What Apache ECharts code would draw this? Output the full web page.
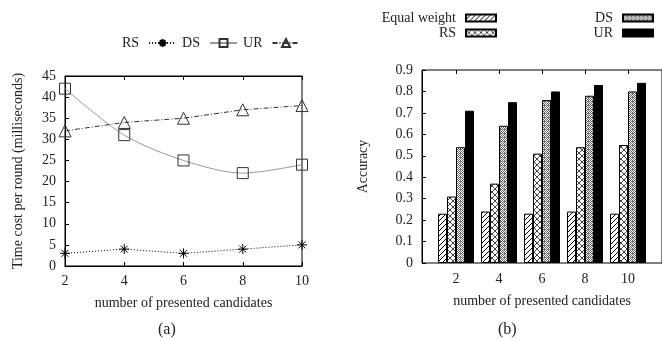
<!DOCTYPE html>
<html>
<head>
<meta charset="utf-8">
<script src="https://cdn.jsdelivr.net/npm/echarts@6/dist/echarts.min.js"></script>
<style>
  html, body { margin: 0; padding: 0; background: #fff; }
  #app { width: 662px; height: 341px; }
</style>
</head>
<body>
<div id="app"></div>
<script>
// (a) time cost per round
const candidates = [2, 4, 6, 8, 10];
const rsTime = [3, 4, 3, 4, 5];
const dsTime = [42, 31, 25, 22, 24];
const urTime = [32, 34, 35, 37, 38];

// (b) accuracy
const candidateLabels = ["2", "4", "6", "8", "10"];
const equalAcc = [0.23, 0.24, 0.23, 0.24, 0.23];
const rsAcc = [0.31, 0.37, 0.51, 0.54, 0.55];
const dsAcc = [0.54, 0.64, 0.76, 0.78, 0.80];
const urAcc = [0.71, 0.75, 0.80, 0.83, 0.84];

const FONT = "Liberation Serif";
const TXT = "#222";

function makePattern(size, draw) {
  const c = document.createElement("canvas");
  c.width = size;
  c.height = size;
  const ctx = c.getContext("2d");
  ctx.fillStyle = "#fff";
  ctx.fillRect(0, 0, size, size);
  draw(ctx, size);
  return { image: c, repeat: "repeat" };
}

// diagonal hatch ////
const hatch = makePattern(5, (ctx, s) => {
  ctx.strokeStyle = "#000";
  ctx.lineWidth = 1;
  ctx.beginPath();
  ctx.moveTo(-1, s + 1); ctx.lineTo(s + 1, -1);
  ctx.moveTo(-1, 1); ctx.lineTo(1, -1);
  ctx.moveTo(s - 1, s + 1); ctx.lineTo(s + 1, s - 1);
  ctx.stroke();
});

// crossed lattice
const lattice = makePattern(6, (ctx, s) => {
  ctx.fillStyle = "#444";
  for (let i = 0; i < s; i++) {
    ctx.fillRect(i, i, 1, 1);
    ctx.fillRect(s - 1 - i, i, 1, 1);
  }
});

// dense dots
const dots = makePattern(4, (ctx) => {
  ctx.fillStyle = "#666";
  [[0,0],[2,0],[1,1],[3,1],[0,2],[2,2],[1,3],[3,3],[0,1]].forEach(p => ctx.fillRect(p[0], p[1], 1, 1));
});

const asterisk = "path://M0,-10L0,10M-10,0L10,0M-7,-7L7,7M-7,7L7,-7";

function pairs(ys) {
  return candidates.map((x, i) => [x, ys[i]]);
}

const tick = { show: true, inside: true, length: 4, lineStyle: { color: "#000" } };
const line = { show: true, lineStyle: { color: "#000", width: 1 } };
const label = { fontFamily: FONT, fontSize: 14, color: TXT };
const legendText = Object.assign({ padding: [0, 5, 0, 0] }, label);

const option = {
  animation: false,
  backgroundColor: "#fff",
  textStyle: { fontFamily: FONT },
  grid: [
    { left: 65, top: 76, width: 237, height: 190, show: true, borderColor: "#000", borderWidth: 1 },
    { left: 422, top: 70, width: 260, height: 193, show: true, borderColor: "#000", borderWidth: 1 },
    { left: 434.5, top: 70, width: 215, height: 193 }
  ],
  legend: [
    {
      data: ["RS", "DS", "UR"],
      left: 122, top: 36, padding: 0,
      align: "right",
      itemWidth: 27, itemHeight: 10, itemGap: 5,
      textStyle: legendText
    },
    {
      data: ["Equal weight", "RS_b"],
      orient: "vertical",
      right: 165, top: 11, padding: 0,
      align: "right", icon: "rect",
      itemWidth: 30, itemHeight: 7, itemGap: 1,
      formatter: n => n.replace("_b", ""),
      textStyle: Object.assign({ lineHeight: 14 }, legendText)
    },
    {
      data: ["DS_b", "UR_b"],
      orient: "vertical",
      right: 8, top: 11, padding: 0,
      align: "right", icon: "rect",
      itemWidth: 30, itemHeight: 7, itemGap: 1,
      formatter: n => n.replace("_b", ""),
      textStyle: Object.assign({ lineHeight: 14 }, legendText)
    }
  ],
  xAxis: [
    {
      gridIndex: 0, type: "value", min: 2, max: 10, interval: 2,
      axisLine: line, axisTick: tick, splitLine: { show: false },
      axisLabel: Object.assign({ margin: 8 }, label),
      name: "number of presented candidates", nameLocation: "middle", nameGap: 30,
      nameTextStyle: label
    },
    {
      gridIndex: 0, type: "value", position: "top", min: 2, max: 10, interval: 2,
      axisLine: line, axisTick: tick, splitLine: { show: false }, axisLabel: { show: false }
    },
    { gridIndex: 1, type: "value", show: false },
    {
      gridIndex: 2, type: "category", data: candidateLabels,
      axisLine: { show: false }, axisTick: { show: false },
      axisLabel: Object.assign({ margin: 9 }, label),
      name: "number of presented candidates", nameLocation: "middle", nameGap: 31,
      nameTextStyle: label
    },
    {
      gridIndex: 2, type: "category", data: candidateLabels, position: "top",
      axisLine: { show: false },
      axisTick: Object.assign({ alignWithLabel: true }, tick),
      axisLabel: { show: false }
    }
  ],
  yAxis: [
    {
      gridIndex: 0, type: "value", min: 0, max: 45, interval: 5,
      axisLine: line, axisTick: tick, splitLine: { show: false },
      axisLabel: Object.assign({ margin: 9 }, label),
      name: "Time cost per round (milliseconds)", nameLocation: "middle", nameGap: 40,
      nameTextStyle: label
    },
    {
      gridIndex: 1, type: "value", min: 0, max: 0.9, interval: 0.1,
      axisLine: line, axisTick: tick, splitLine: { show: false },
      axisLabel: Object.assign({ margin: 9 }, label),
      name: "Accuracy", nameLocation: "middle", nameGap: 52,
      nameTextStyle: label
    },
    { gridIndex: 2, type: "value", min: 0, max: 0.9, show: false }
  ],
  series: [
    {
      name: "RS", type: "line", xAxisIndex: 0, yAxisIndex: 0,
      data: pairs(rsTime),
      symbol: asterisk, symbolSize: 10,
      itemStyle: { color: "#000", borderColor: "#000", borderWidth: 1 },
      lineStyle: { color: "#000", width: 1, type: [1, 2] }
    },
    {
      name: "DS", type: "line", xAxisIndex: 0, yAxisIndex: 0,
      data: pairs(dsTime), smooth: 0.3,
      symbol: "rect", symbolSize: 11,
      itemStyle: { color: "rgba(255,255,255,0)", borderColor: "#333", borderWidth: 1 },
      lineStyle: { color: "#999", width: 1 }
    },
    {
      name: "UR", type: "line", xAxisIndex: 0, yAxisIndex: 0,
      data: pairs(urTime),
      symbol: "triangle", symbolSize: 12,
      itemStyle: { color: "rgba(255,255,255,0)", borderColor: "#333", borderWidth: 1 },
      lineStyle: { color: "#333", width: 1, type: [5, 2, 1, 2] }
    },
    {
      name: "Equal weight", type: "bar", xAxisIndex: 3, yAxisIndex: 2,
      data: equalAcc, barWidth: 9, barGap: "0%",
      itemStyle: { color: hatch, borderColor: "#000", borderWidth: 1 }
    },
    {
      name: "RS_b", type: "bar", xAxisIndex: 3, yAxisIndex: 2,
      data: rsAcc, barWidth: 9, barGap: "0%",
      itemStyle: { color: lattice, borderColor: "#000", borderWidth: 1 }
    },
    {
      name: "DS_b", type: "bar", xAxisIndex: 3, yAxisIndex: 2,
      data: dsAcc, barWidth: 9, barGap: "0%",
      itemStyle: { color: dots, borderColor: "#000", borderWidth: 1 }
    },
    {
      name: "UR_b", type: "bar", xAxisIndex: 3, yAxisIndex: 2,
      data: urAcc, barWidth: 9, barGap: "0%",
      itemStyle: { color: "#000", borderColor: "#000", borderWidth: 1 }
    }
  ],
  graphic: [
    { type: "text", left: 158, top: 322, style: { text: "(a)", font: "16px " + FONT, fill: TXT } },
    { type: "text", left: 498, top: 322, style: { text: "(b)", font: "16px " + FONT, fill: TXT } }
  ]
};

const chart = echarts.init(document.getElementById("app"), null, { renderer: "canvas" });
chart.setOption(option);
window.onresize = function() {
  chart.resize();
};
</script>
</body>
</html>
